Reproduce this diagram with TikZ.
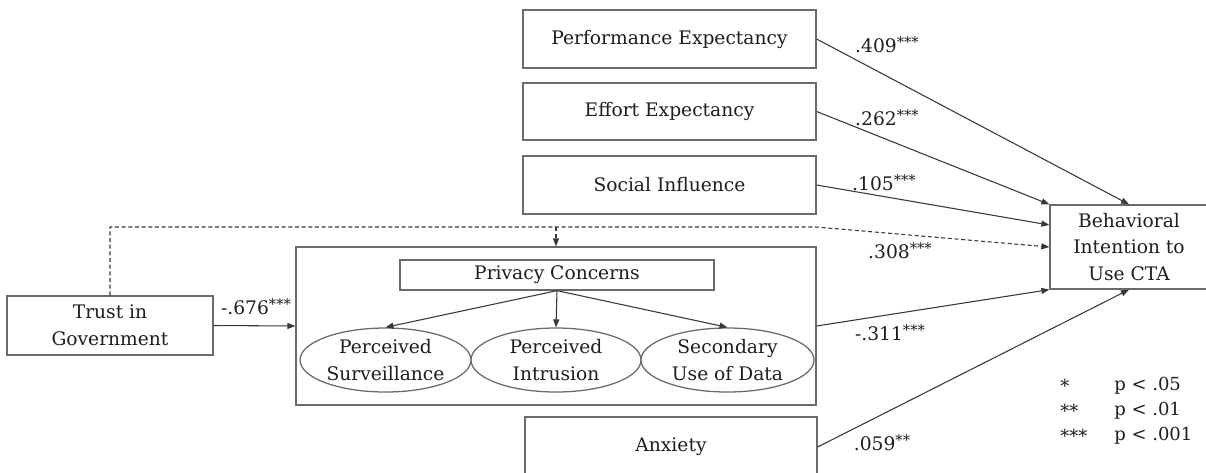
\documentclass[tikz,border=0pt]{standalone}
\usepackage{fontspec}
\setmainfont{DejaVu Serif}
\usetikzlibrary{arrows.meta,shapes.geometric}
\definecolor{ink}{HTML}{1E1E1E}
\definecolor{frame}{HTML}{6A6A6A}
\definecolor{wire}{HTML}{383838}
\tikzset{
  construct/.style={draw=frame, line width=0.95pt, fill=white, inner sep=0pt,
    text=ink, align=center, font=\fontsize{14}{20}\selectfont},
  size/.style 2 args={minimum width=#1*0.75pt, minimum height=#2*0.75pt},
  latent/.style={construct, ellipse},
  path coef/.style={text=ink, inner sep=1pt, font=\fontsize{14}{16}\selectfont},
  link/.style={draw=wire, line width=0.8pt, -{Triangle[length=6pt,width=4.5pt]}},
  moderation/.style={link, dashed, dash pattern=on 3pt off 2pt},
  legendtext/.style={text=ink, inner sep=0pt, anchor=west, font=\fontsize{13.5}{15}\selectfont}
}
\newcommand{\sig}[1]{\raisebox{0.5ex}{\fontsize{11}{11}\selectfont #1}}
\begin{document}
\begin{tikzpicture}[x=0.75pt,y=-0.75pt]
  \clip (0,0) rectangle (1206,472);
  \fill[white] (0,0) rectangle (1206,472);

  % UTAUT predictors
  \node[construct, size={293}{58}] (pe) at (669.5,39) {Performance Expectancy};
  \node[construct, size={293}{57}] (ee) at (669.5,111.5) {Effort Expectancy};
  \node[construct, size={293}{58}] (si) at (669.5,185) {Social Influence};
  \node[construct, size={292}{60}] (ax) at (671,447) {Anxiety};

  % outcome
  \node[construct, size={158}{84}] (bi) at (1129,247)
    {Behavioral\\Intention to\\Use CTA};

  % trust
  \node[construct, size={206}{59}] (tg) at (110,325.5) {Trust in\\Government};

  % privacy concerns block
  \node[construct, size={520}{158}] (pcb) at (556,326) {};
  \node[construct, size={314}{30}] (pc) at (557,275) {Privacy Concerns};
  \node[latent, size={171}{64}] (ps) at (385.5,360) {Perceived\\Surveillance};
  \node[latent, size={170}{64}] (pi) at (556,360) {Perceived\\Intrusion};
  \node[latent, size={173}{64}] (su) at (727.5,360) {Secondary\\Use of Data};

  % second-order structure
  \draw[link] (pc.south) -- (ps.north);
  \draw[link] (pc.south) -- (pi.north);
  \draw[link] (pc.south) -- (su.north);

  % structural paths
  \draw[link] (pe.east) -- (bi.north);
  \draw[link] (ee.east) -- (bi.north west);
  \draw[link] (si.east) -- ([yshift=16.5pt]bi.west);
  \draw[link] (pcb.east) -- (bi.south west);
  \draw[link] (ax.east) -- (bi.south);
  \draw[link] (tg.east) -- (pcb.west);

  % moderation path of trust
  \coordinate (mtop) at (110,227);
  \coordinate (mturn) at (816,227);
  \draw[moderation] (tg.north) -- (mtop) -- (mturn) -- (bi.west);
  \draw[moderation] (pcb.north |- mturn) -- (pcb.north);

  % coefficients
  \node[path coef] (c1) at (887,45) {.409\sig{***}};
  \node[path coef] (c2) at (887,118) {.262\sig{***}};
  \node[path coef] (c3) at (884,183) {.105\sig{***}};
  \node[path coef] (c4) at (900,251) {.308\sig{***}};
  \node[path coef] (c5) at (890,333) {-.311\sig{***}};
  \node[path coef] (c6) at (882,443) {.059\sig{**}};
  \node[path coef] (c7) at (256,307) {-.676\sig{***}};

  % significance legend
  \node[legendtext] (s1) at (1060,386) {*};
  \node[legendtext] (s2) at (1060,411) {**};
  \node[legendtext] (s3) at (1060,436) {***};
  \node[legendtext] (p1) at (1114,386) {p < .05};
  \node[legendtext] (p2) at (1114,411) {p < .01};
  \node[legendtext] (p3) at (1114,436) {p < .001};
\end{tikzpicture}
\end{document}
